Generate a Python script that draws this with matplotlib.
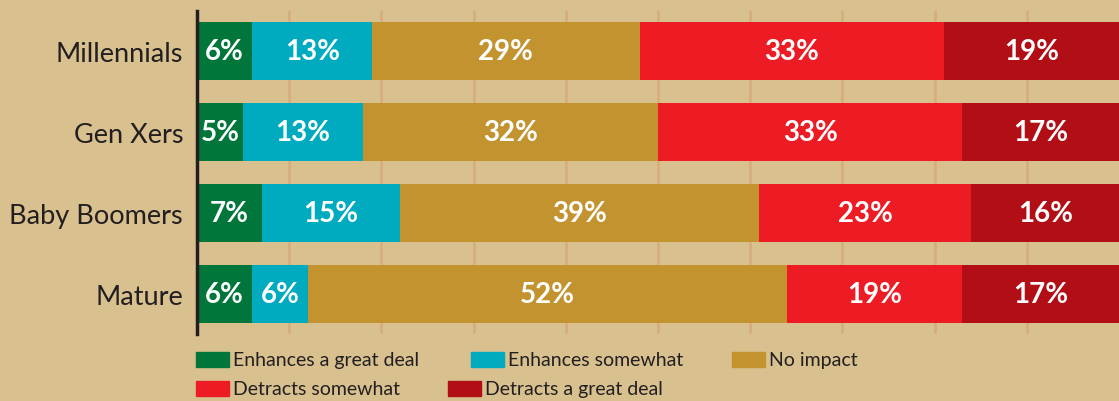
import numpy as np
import matplotlib

matplotlib.use("Agg")
import matplotlib.pyplot as plt
from matplotlib.patches import Rectangle

# -- Data ---------------------------------------------------------------------

GROUPS = ["Millennials", "Gen Xers", "Baby Boomers", "Mature"]
SERIES = ["Enhances a great deal", "Enhances somewhat", "No impact",
          "Detracts somewhat", "Detracts a great deal"]
ENH_GREAT = [6, 5, 7, 6]
ENH_SOME = [13, 13, 15, 6]
NO_IMPACT = [29, 32, 39, 52]
DET_SOME = [33, 33, 23, 19]
DET_GREAT = [19, 17, 16, 17]

COLORS = ["#00763A", "#00AABF", "#C39330", "#ED1C24", "#B20E16"]
BG = "#D8C18F"
TEXT = "#231F20"

plt.rcParams["font.family"] = ["Lato", "DejaVu Sans"]

W, H = 1119, 402
fig = plt.figure(figsize=(W / 100, H / 100), dpi=100, facecolor=BG)
ax = fig.add_axes([197 / W, 1 - 335 / H, 1 - 197 / W, 323 / H])
ax.set_facecolor(BG)

values = np.array([ENH_GREAT, ENH_SOME, NO_IMPACT, DET_SOME, DET_GREAT])
y = np.arange(len(GROUPS))
left = np.zeros(len(GROUPS))
for vals, color in zip(values, COLORS):
    ax.barh(y, vals, left=left, height=0.72, color=color, zorder=3)
    for yi, l, v in zip(y, left, vals):
        ax.text(l + v / 2, yi, f"{v}%", ha="center", va="center",
                color="white", fontsize=20, fontweight="bold", zorder=4)
    left += vals

ax.set_xlim(0, 100)
ax.set_ylim(len(GROUPS) - 0.5, -0.5)
ax.set_xticks(np.arange(10, 100, 10))
ax.xaxis.grid(True, color="#D6AE7E", linewidth=2, zorder=0)
ax.tick_params(axis="x", length=0, labelbottom=False)
ax.set_yticks(y)
ax.set_yticklabels(GROUPS, fontsize=19.5, color=TEXT)
ax.tick_params(axis="y", length=0, pad=10)
for s in ["top", "right", "bottom"]:
    ax.spines[s].set_visible(False)
ax.spines["left"].set_color(TEXT)
ax.spines["left"].set_linewidth(2.5)
ax.spines["left"].set_zorder(5)

# -- Legend (manual, two irregular rows) --------------------------------------
legend_pos = [(196, 353), (471, 353), (732, 353), (196, 382), (448, 382)]
for idx, (px, py) in enumerate(legend_pos):
    fig.patches.append(Rectangle((px / W, 1 - (py + 15) / H), 33 / W, 15 / H,
                                 transform=fig.transFigure, color=COLORS[idx]))
    fig.text((px + 37) / W, 1 - (py + 8) / H, SERIES[idx], ha="left",
             va="center", fontsize=14, color=TEXT)

plt.savefig("out.png", dpi=100, facecolor=BG)
plt.close()
